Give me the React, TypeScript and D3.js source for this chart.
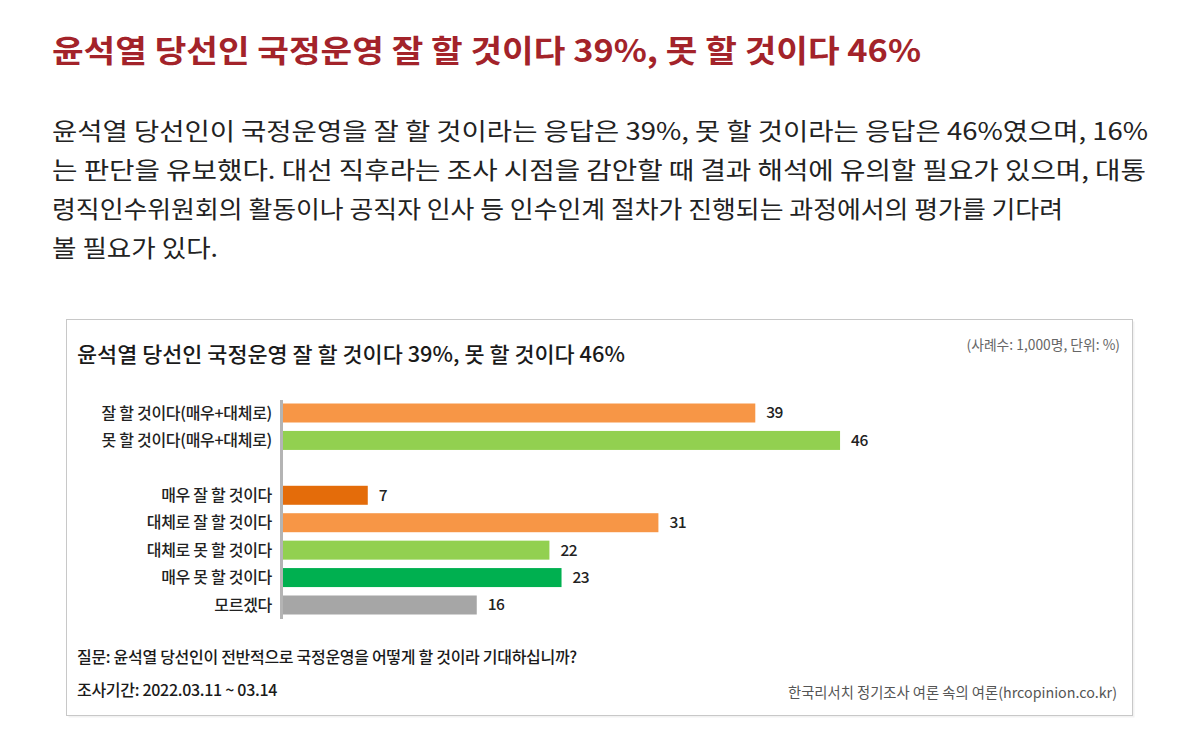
import React from "react";
import * as d3 from "d3";

const headline = "윤석열 당선인 국정운영 잘 할 것이다 39%, 못 할 것이다 46%";
const paragraphLines = [
  "윤석열 당선인이 국정운영을 잘 할 것이라는 응답은 39%, 못 할 것이라는 응답은 46%였으며, 16%",
  "는 판단을 유보했다. 대선 직후라는 조사 시점을 감안할 때 결과 해석에 유의할 필요가 있으며, 대통",
  "령직인수위원회의 활동이나 공직자 인사 등 인수인계 절차가 진행되는 과정에서의 평가를 기다려",
  "볼 필요가 있다.",
];
const chartTitle = "윤석열 당선인 국정운영 잘 할 것이다 39%, 못 할 것이다 46%";
const unitNote = "(사례수: 1,000명, 단위: %)";
const categories = [
  "잘 할 것이다(매우+대체로)",
  "못 할 것이다(매우+대체로)",
  "매우 잘 할 것이다",
  "대체로 잘 할 것이다",
  "대체로 못 할 것이다",
  "매우 못 할 것이다",
  "모르겠다",
];
const values = [39, 46, 7, 31, 22, 23, 16];
const barColors = ["#F79646", "#92D050", "#E46C0A", "#F79646", "#92D050", "#00B050", "#A6A6A6"];
const rowOrder = [categories[0], categories[1], "__gap__", ...categories.slice(2)];
const questionText = "질문: 윤석열 당선인이 전반적으로 국정운영을 어떻게 할 것이라 기대하십니까?";
const periodText = "조사기간: 2022.03.11 ~ 03.14";
const sourceText = "한국리서치 정기조사 여론 속의 여론(hrcopinion.co.kr)";

const paraWidths = [1096, 1094, 1011, 166];

export default function App() {
  const x = d3.scaleLinear().domain([0, 50]).range([283, 283 + 50 * 12.11]);
  const y = d3.scalePoint<string>().domain(rowOrder).range([413, 605]);
  const barH = 19;
  const font = "'Noto Sans CJK KR', 'Noto Sans', sans-serif";

  return (
    <div style={{ position: "absolute", left: 0, top: 0 }}>
      <svg width={1200} height={747} style={{ display: "block", fontFamily: font }}>
        <rect x={0} y={0} width={1200} height={747} fill="#fff" />
        <text x={52} y={62} fontSize={31} fontWeight={700} fill="#a3232a" textLength={869} lengthAdjust="spacingAndGlyphs">
          {headline}
        </text>
        {paragraphLines.map((l, i) => (
          <text key={i} x={52} y={140 + i * 39} fontSize={24} fill="#222" textLength={paraWidths[i]} lengthAdjust="spacingAndGlyphs">
            {l}
          </text>
        ))}

        <rect x={68.5} y={321.5} width={1066} height={396} fill="#f2f2f2" stroke="none" />
        <rect x={66.5} y={319.5} width={1066} height={396} fill="#fff" stroke="#c8c8c8" strokeWidth={1} />

        <text x={77} y={362} fontSize={21} fontWeight={500} fill="#1a1a1a" textLength={548} lengthAdjust="spacingAndGlyphs">
          {chartTitle}
        </text>
        <text x={1120} y={350} fontSize={13.8} fill="#666" textAnchor="end">
          {unitNote}
        </text>

        {categories.map((c, i) => (
          <g key={c}>
            <rect x={x(0)} y={(y(c) as number) - barH / 2} width={x(values[i]) - x(0)} height={barH} fill={barColors[i]} />
            <text x={272} y={y(c) as number} dy="0.35em" fontSize={16} fontWeight={500} fill="#222" textAnchor="end" letterSpacing={-0.3}>
              {c}
            </text>
            <text x={x(values[i]) + 11} y={y(c) as number} dy="0.35em" fontSize={15.5} fontWeight={500} fill="#222" letterSpacing={-0.5}>
              {values[i]}
            </text>
          </g>
        ))}
        <line x1={281.5} x2={281.5} y1={400} y2={619} stroke="#b4b4b4" strokeWidth={3} />

        <text x={77} y={663} fontSize={16} fontWeight={500} fill="#1a1a1a" letterSpacing={-0.3}>
          {questionText}
        </text>
        <text x={77} y={696} fontSize={16} fontWeight={500} fill="#1a1a1a" letterSpacing={-0.3}>
          {periodText}
        </text>
        <text x={1117} y={698} fontSize={14.3} fill="#555" textAnchor="end">
          {sourceText}
        </text>
      </svg>
    </div>
  );
}
